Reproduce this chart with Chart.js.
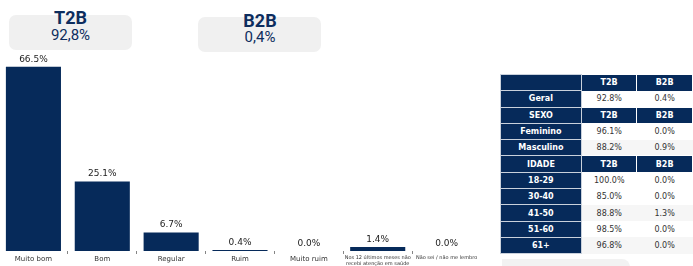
<!DOCTYPE html>
<html><head><meta charset="utf-8">
<script src="https://cdn.jsdelivr.net/npm/chart.js@4/dist/chart.umd.min.js"></script>
<style>
html,body{margin:0;padding:0;width:693px;height:266px;overflow:hidden;background:#fff;position:relative;}
.kpi{position:absolute;background:#f0f0f0;border-radius:7px;}
.kt{position:absolute;width:160px;text-align:center;color:#0d2d5e;font-family:Roboto,"Open Sans",sans-serif;white-space:nowrap;}
.kt.b{font-weight:700;font-size:18px;line-height:18px;}
.kt.v{font-weight:400;font-size:15px;line-height:15px;}
#cw{position:absolute;left:-1px;top:0;width:482px;height:268px;}
table{position:absolute;left:500px;top:74px;border-collapse:collapse;font-family:"DejaVu Sans",sans-serif;font-size:8px;table-layout:fixed;}
td{height:16.3px;padding:0;text-align:center;box-sizing:border-box;}
td.h{background:#062a5a;color:#fff;font-weight:700;border:1px solid #c9d1dc;}
td.hh{background:#062a5a;color:#fff;font-weight:700;border-left:1px solid #fff;border-right:1px solid #fff;border-top:1px solid #fff;}
td.d{color:#333;background:#fff;}
td.d.g{background:#f6f6f6;}
</style></head><body>
<div class="kpi" style="left:9px;top:15px;width:123px;height:35px;"></div>
<div class="kpi" style="left:198px;top:17px;width:123px;height:35px;"></div>
<div id="kpis"></div>
<div id="cw"><canvas id="c"></canvas></div>
<table id="tb"><colgroup><col style="width:83px"><col style="width:57px"><col style="width:58px"></colgroup><tbody></tbody></table>
<div style="position:absolute;left:502px;top:259px;width:128px;height:20px;background:#f2f2f2;border-radius:0 8px 0 0;"></div>
<script>
// KPI boxes
const kpiLabels = ["T2B", "B2B"];
const kpiValues = ["92,8%", "0,4%"];

// Bar chart data
const categories = ["Muito bom", "Bom", "Regular", "Ruim", "Muito ruim",
  ["Nos 12 últimos meses não", "recebi atenção em saúde"], "Não sei / não me lembro"];
const values = [66.5, 25.1, 6.7, 0.4, 0.0, 1.4, 0.0];

// Table data
const tableRows = ["Geral", "SEXO", "Feminino", "Masculino", "IDADE", "18-29", "30-40", "41-50", "51-60", "61+"];
const tableT2B = ["92.8%", null, "96.1%", "88.2%", null, "100.0%", "85.0%", "88.8%", "98.5%", "96.8%"];
const tableB2B = ["0.4%", null, "0.0%", "0.9%", null, "0.0%", "0.0%", "1.3%", "0.0%", "0.0%"];
const shadedRows = ["Masculino", "41-50", "61+"];

// KPI text
const kpiPos = [{x:70.5, t1:9, t2:28}, {x:260, t1:12, t2:30}];
const kd = document.getElementById('kpis');
kpiLabels.forEach((l,i)=>{
  const a=document.createElement('div'); a.className='kt b'; a.textContent=l;
  a.style.left=(kpiPos[i].x-80)+'px'; a.style.top=kpiPos[i].t1+'px'; kd.appendChild(a);
  const b=document.createElement('div'); b.className='kt v'; b.textContent=kpiValues[i];
  b.style.left=(kpiPos[i].x-80)+'px'; b.style.top=kpiPos[i].t2+'px'; kd.appendChild(b);
});

// Table
const tb = document.querySelector('#tb tbody');
let tr = document.createElement('tr');
tr.innerHTML = '<td class="h"></td><td class="hh">T2B</td><td class="hh">B2B</td>';
tb.appendChild(tr);
tableRows.forEach((r,i)=>{
  const row=document.createElement('tr');
  if(tableT2B[i]===null){
    row.innerHTML='<td class="h">'+r+'</td><td class="hh">T2B</td><td class="hh">B2B</td>';
  } else {
    const g = shadedRows.includes(r)?' g':'';
    row.innerHTML='<td class="h">'+r+'</td><td class="d'+g+'">'+tableT2B[i]+'</td><td class="d'+g+'">'+tableB2B[i]+'</td>';
  }
  tb.appendChild(row);
});

// Chart
const labelPlugin = {
  id:'valLabels',
  afterDatasetsDraw(chart){
    const ctx=chart.ctx; const meta=chart.getDatasetMeta(0);
    ctx.save();
    ctx.font='9px "DejaVu Sans"'; ctx.fillStyle='#222'; ctx.textAlign='center'; ctx.textBaseline='bottom';
    meta.data.forEach((bar,i)=>{
      ctx.fillText(values[i].toFixed(1)+'%', bar.x, bar.y-3);
    });
    ctx.restore();
  }
};
new Chart(document.getElementById('c'), {
  type:'bar',
  data:{labels:categories, datasets:[{data:values, backgroundColor:'#062a5a', borderWidth:0,
    categoryPercentage:1, barPercentage:0.8}]},
  options:{
    responsive:true, maintainAspectRatio:false, animation:false,
    layout:{padding:{top:57,left:0,right:0,bottom:0}},
    plugins:{legend:{display:false}, tooltip:{enabled:false}},
    scales:{
      y:{display:false, min:0, max:70},
      x:{
        border:{display:false},
        grid:{display:true, drawOnChartArea:false, drawTicks:true, tickLength:3, color:'#666', tickWidth:0.8},
        ticks:{color:'#333', padding:1, maxRotation:0, autoSkip:false,
          font:(c)=> (c.index>=5 ? {family:'"DejaVu Sans"', size:5, lineHeight:1.2} : {family:'"DejaVu Sans"', size:7, lineHeight:1.2})}
      }
    }
  },
  plugins:[labelPlugin]
});
</script>
</body></html>
